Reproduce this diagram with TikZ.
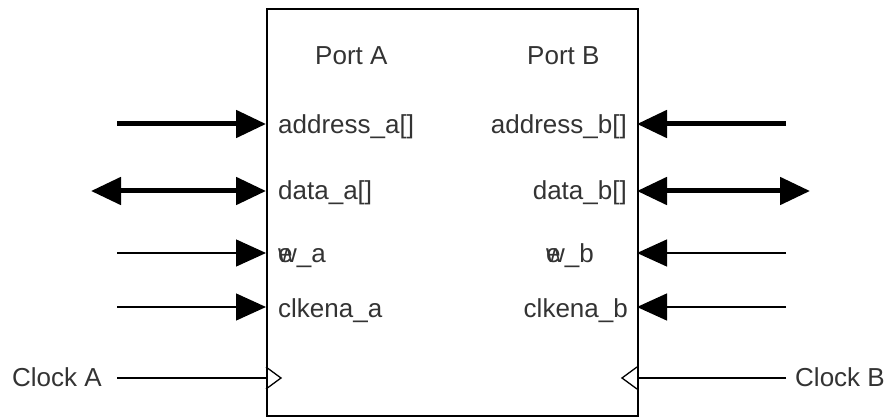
\documentclass[tikz,border=0pt]{standalone}
\usepackage{fontspec}
\setmainfont{Liberation Sans}
\usetikzlibrary{arrows.meta}

\tikzset{
    >={Triangle[length=30pt,width=27pt]},
    sig/.style={line width=1.3pt},
    bus/.style={line width=5pt},
    lbl/.style={text=black!80, inner sep=0pt, font=\fontsize{26}{30}\selectfont},
}

\begin{document}
\begin{tikzpicture}[x=1pt, y=-1pt]
    \useasboundingbox (0,0) rectangle (887,417);

    % draw memory block
    \node[draw, line width=1.8pt, inner sep=0pt, anchor=north west,
          minimum width=371pt, minimum height=407pt] (ram) at (266,8) {};

    % draw port titles
    \node[lbl, anchor=base west] (porta) at (315,65) {Port A};
    \node[lbl, anchor=base west] (portb) at (527,65) {Port B};

    % draw port points on the block
    \foreach \n/\y in {adr/124, dat/191, wen/253, cke/307, clk/378} {
        \coordinate (\n a) at (266,\y);
        \coordinate (\n b) at (637,\y);
    }

    % draw signal names
    \node[lbl, anchor=base west] (adrla) at (278,134) {address\_a[]};
    \node[lbl, anchor=base west] (datla) at (278,200) {data\_a[]};
    \node[lbl, anchor=base west] (wenla) at (278,262) {\rlap{e}w\_a};
    \node[lbl, anchor=base west] (ckela) at (278,317) {clkena\_a};
    \node[lbl, anchor=base east] (adrlb) at (627,134) {address\_b[]};
    \node[lbl, anchor=base east] (datlb) at (627,200) {data\_b[]};
    \node[lbl, anchor=base west] (wenlb) at (546,262) {\rlap{e}w\_b};
    \node[lbl, anchor=base east] (ckelb) at (628,317) {clkena\_b};

    % draw outer ends of the lines
    \coordinate (adrxa) at (117,124);
    \coordinate (datxa) at (91,191);
    \coordinate (wenxa) at (117,253);
    \coordinate (ckexa) at (117,307);
    \coordinate (clkxa) at (117,378);
    \coordinate (adrxb) at (786,124);
    \coordinate (datxb) at (810,191);
    \coordinate (wenxb) at (786,253);
    \coordinate (ckexb) at (786,307);
    \coordinate (clkxb) at (786,378);

    % draw arrows
    \draw[bus, ->] (adrxa) -- (adra);
    \draw[bus, <->] (datxa) -- (data);
    \draw[sig, ->] (wenxa) -- (wena);
    \draw[sig, ->] (ckexa) -- (ckea);
    \draw[bus, ->] (adrxb) -- (adrb);
    \draw[bus, <->] (datxb) -- (datb);
    \draw[sig, ->] (wenxb) -- (wenb);
    \draw[sig, ->] (ckexb) -- (ckeb);

    % draw clocks
    \node[lbl, anchor=base west] (clocka) at (12,386) {Clock A};
    \node[lbl, anchor=base west] (clockb) at (795,386) {Clock B};
    \draw[sig] (clkxa) -- (clka);
    \draw[sig] (clkxb) -- (clkb);
    \draw[sig, line join=miter] ([yshift=-11pt]clka) -- ([xshift=15pt]clka) -- ([yshift=11pt]clka);
    \draw[sig, line join=miter] ([yshift=-11pt]clkb) -- ([xshift=-15pt]clkb) -- ([yshift=11pt]clkb);

\end{tikzpicture}
\end{document}
